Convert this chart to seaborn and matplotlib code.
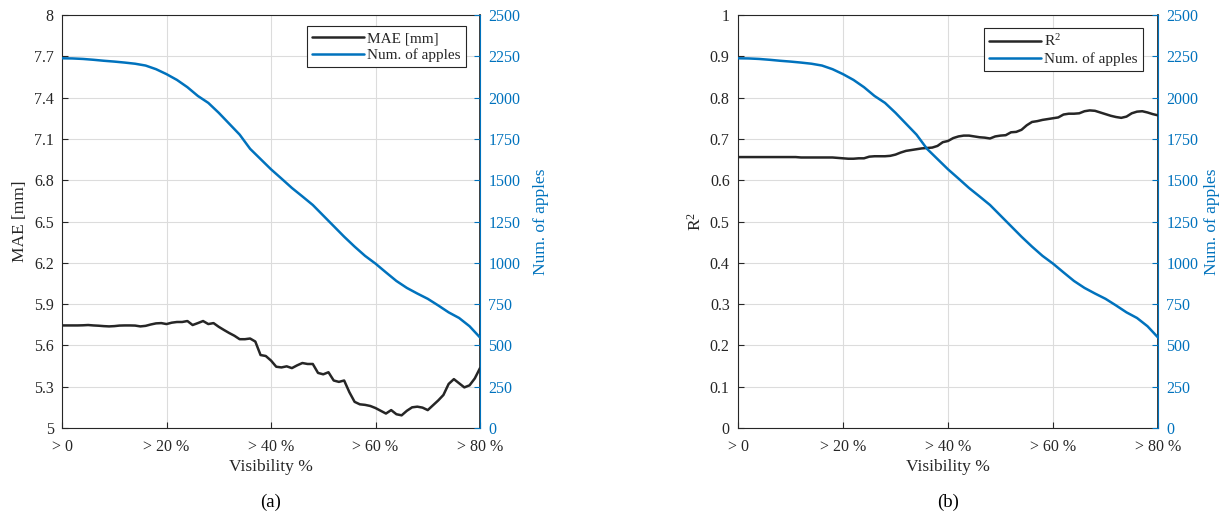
import numpy as np
import matplotlib
matplotlib.use("Agg")
import matplotlib.pyplot as plt
import seaborn as sns

# visibility thresholds (%) for the per-step curves
vis_fine = list(range(0, 81))
vis_coarse = list(range(0, 81, 2))

mae_mm = [5.745, 5.745, 5.745, 5.745, 5.746, 5.748, 5.745, 5.743, 5.740, 5.738,
          5.740, 5.744, 5.745, 5.745, 5.744, 5.738, 5.742, 5.752, 5.760, 5.762,
          5.755, 5.765, 5.770, 5.770, 5.777, 5.748, 5.762, 5.777, 5.755, 5.762,
          5.735, 5.712, 5.690, 5.670, 5.645, 5.645, 5.650, 5.628, 5.530, 5.523,
          5.490, 5.445, 5.440, 5.448, 5.435, 5.455, 5.472, 5.465, 5.465, 5.400,
          5.390, 5.405, 5.345, 5.335, 5.345, 5.260, 5.190, 5.172, 5.168, 5.160,
          5.145, 5.125, 5.105, 5.130, 5.100, 5.092, 5.125, 5.150, 5.155, 5.148,
          5.130, 5.165, 5.200, 5.240, 5.320, 5.355, 5.325, 5.295, 5.310, 5.360,
          5.435]

r2 = [0.656, 0.656, 0.656, 0.656, 0.656, 0.656, 0.656, 0.656, 0.656, 0.656,
      0.656, 0.656, 0.655, 0.655, 0.655, 0.655, 0.655, 0.655, 0.655, 0.654,
      0.653, 0.652, 0.652, 0.653, 0.653, 0.657, 0.658, 0.658, 0.658, 0.659,
      0.662, 0.667, 0.671, 0.673, 0.675, 0.677, 0.678, 0.679, 0.683, 0.692,
      0.695, 0.702, 0.706, 0.708, 0.708, 0.706, 0.704, 0.703, 0.701, 0.706,
      0.708, 0.709, 0.716, 0.717, 0.722, 0.733, 0.741, 0.743, 0.746, 0.748,
      0.750, 0.752, 0.759, 0.761, 0.761, 0.762, 0.767, 0.769, 0.768, 0.764,
      0.760, 0.756, 0.753, 0.751, 0.754, 0.762, 0.766, 0.767, 0.764, 0.760,
      0.757]

n_apples = [2238, 2237, 2234, 2229, 2223, 2218, 2212, 2205, 2194, 2172,
            2142, 2107, 2063, 2010, 1968, 1908, 1842, 1776, 1690, 1628,
            1566, 1510, 1453, 1402, 1350, 1286, 1222, 1158, 1098, 1042,
            995, 942, 890, 848, 814, 782, 742, 700, 666, 616, 548]

x_ticks = [0, 20, 40, 60, 80]
x_ticklabels = ["> 0", "> 20 %", "> 40 %", "> 60 %", "> 80 %"]
mae_ticks = [5, 5.3, 5.6, 5.9, 6.2, 6.5, 6.8, 7.1, 7.4, 7.7, 8]
mae_ticklabels = ["5", "5.3", "5.6", "5.9", "6.2", "6.5", "6.8", "7.1", "7.4", "7.7", "8"]
r2_ticks = [0, 0.1, 0.2, 0.3, 0.4, 0.5, 0.6, 0.7, 0.8, 0.9, 1]
r2_ticklabels = ["0", "0.1", "0.2", "0.3", "0.4", "0.5", "0.6", "0.7", "0.8", "0.9", "1"]
apple_ticks = [0, 250, 500, 750, 1000, 1250, 1500, 1750, 2000, 2250, 2500]

sns.set_theme(style="white")
plt.rcParams["font.family"] = ["Liberation Serif", "DejaVu Serif"]
plt.rcParams["mathtext.fontset"] = "custom"
plt.rcParams["mathtext.rm"] = "Liberation Serif"
plt.rcParams["mathtext.it"] = "Liberation Serif:italic"

DARK = "#262626"
BLUE = "#0072BD"

fig = plt.figure(figsize=(12.26, 5.17), dpi=100)
ax_a = fig.add_axes([62 / 1226, 89 / 517, 418 / 1226, 413 / 517])
ax_b = fig.add_axes([738 / 1226, 89 / 517, 420 / 1226, 413 / 517])


def style_panel(ax, ax2, yticks, yticklabels, ylabel, leg_label, anchor, tag, rpad):
    ax.set_xlim(0, 80)
    ax.set_ylim(yticks[0], yticks[-1])
    ax.set_xticks(x_ticks)
    ax.set_xticklabels(x_ticklabels)
    ax.set_yticks(yticks)
    ax.set_yticklabels(yticklabels)
    ax.grid(True, color="#dcdcdc", linewidth=0.8)
    ax.tick_params(axis="both", direction="in", length=4, width=0.8,
                   labelsize=11.5, colors=DARK, pad=6)
    ax.tick_params(axis="y", left=True)
    ax.tick_params(axis="x", bottom=True, pad=8)
    for side in ["left", "bottom", "top"]:
        ax.spines[side].set_color(DARK)
        ax.spines[side].set_linewidth(0.8)
    ax.set_xlabel("Visibility %", fontsize=12.5, color=DARK, labelpad=3)
    ax.set_ylabel(ylabel, fontsize=12.5, color=DARK, labelpad=4)

    ax2.set_ylim(0, 2500)
    ax2.set_yticks(apple_ticks)
    ax2.tick_params(axis="y", direction="in", length=4, width=0.8,
                    labelsize=11.5, colors=BLUE, right=True, pad=6)
    ax2.spines["right"].set_color(BLUE)
    ax2.spines["right"].set_linewidth(0.8)
    ax2.spines["left"].set_visible(False)
    ax2.spines["top"].set_visible(False)
    ax2.spines["bottom"].set_visible(False)
    ax2.grid(False)
    ax2.set_ylabel("Num. of apples", fontsize=12.5, color=BLUE, labelpad=rpad)

    h1, _ = ax.get_legend_handles_labels()
    h2, _ = ax2.get_legend_handles_labels()
    if ax.get_legend():
        ax.get_legend().remove()
    if ax2.get_legend():
        ax2.get_legend().remove()
    leg = ax2.legend(h1 + h2, [leg_label, "Num. of apples"], loc="upper right",
                     bbox_to_anchor=anchor, borderaxespad=0, fontsize=11,
                     frameon=True, fancybox=False, framealpha=1,
                     edgecolor=DARK, labelspacing=0.2, borderpad=0.35,
                     handlelength=3.4, handletextpad=0.2)
    leg.get_frame().set_linewidth(0.8)
    fig.text((ax.get_position().x0 + ax.get_position().x1) / 2, 6 / 517, tag,
             ha="center", va="bottom", fontsize=13.5, color="black")


# panel (a): MAE vs. visibility
sns.lineplot(x=vis_fine, y=mae_mm, ax=ax_a, color=DARK, linewidth=1.8, label="MAE [mm]")
ax_a2 = ax_a.twinx()
sns.lineplot(x=vis_coarse, y=n_apples, ax=ax_a2, color=BLUE, linewidth=1.8, label="Num. of apples")
style_panel(ax_a, ax_a2, mae_ticks, mae_ticklabels, "MAE [mm]", "MAE [mm]",
            (0.9665, 0.973), "(a)", 9)

# panel (b): R^2 vs. visibility
sns.lineplot(x=vis_fine, y=r2, ax=ax_b, color=DARK, linewidth=1.8, label="R$^2$")
ax_b2 = ax_b.twinx()
sns.lineplot(x=vis_coarse, y=n_apples, ax=ax_b2, color=BLUE, linewidth=1.8, label="Num. of apples")
style_panel(ax_b, ax_b2, r2_ticks, r2_ticklabels, "R$^2$", "R$^2$",
            (0.964, 0.969), "(b)", 4)

fig.savefig("out.png", dpi=100, facecolor="white")
